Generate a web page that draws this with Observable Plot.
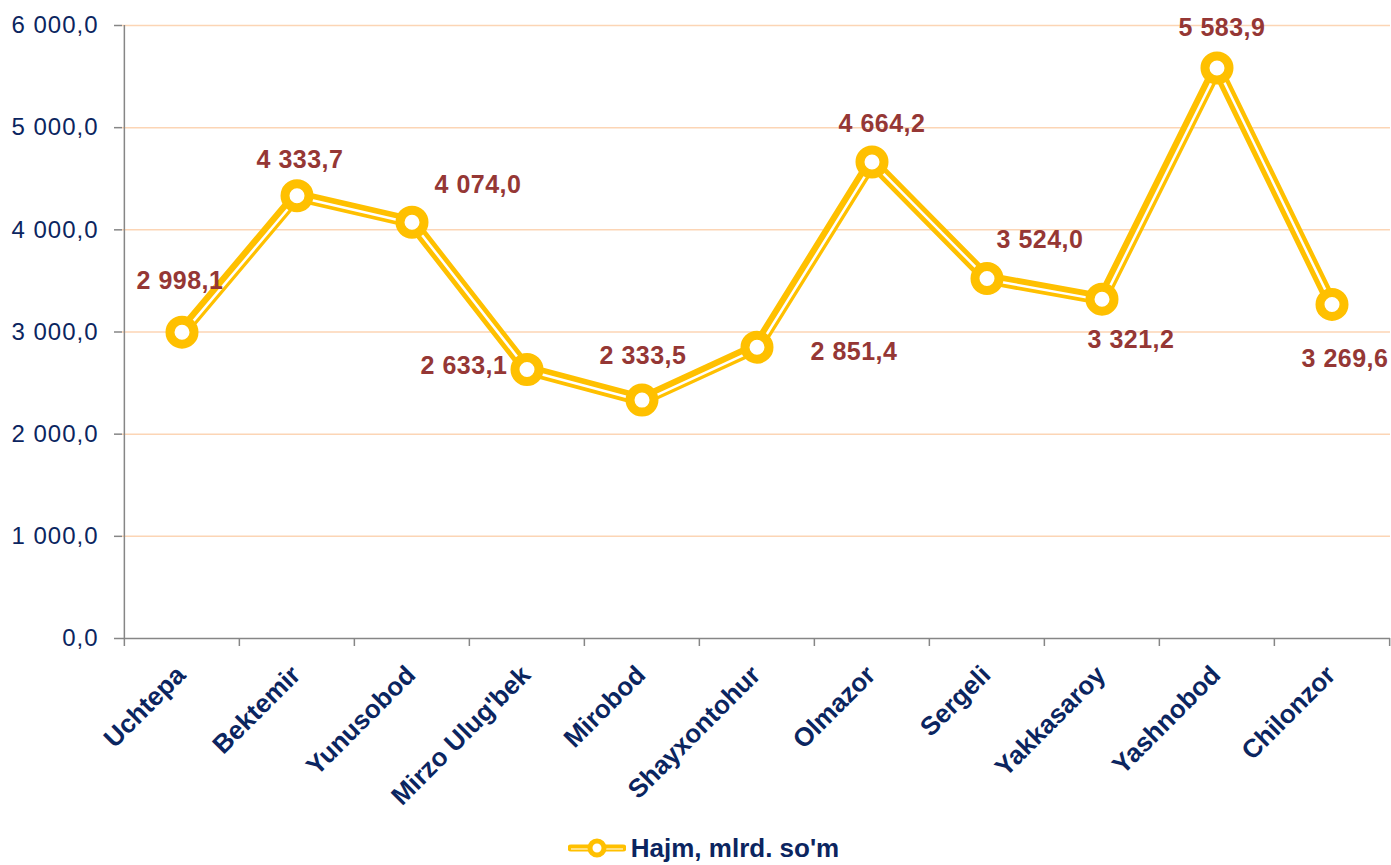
<!DOCTYPE html>
<html>
<head>
<meta charset="utf-8">
<script src="https://cdn.jsdelivr.net/npm/d3@7"></script>
<script src="https://cdn.jsdelivr.net/npm/@observablehq/plot@0.6"></script>
<style>
  html, body { margin: 0; padding: 0; background: #fff; overflow: hidden; }
  body { font-family: "Liberation Sans", Arial, sans-serif; }
  #chart svg g[aria-label="y-axis tick label"] text { letter-spacing: 1px; }
  #chart svg g.vlabel text { letter-spacing: 0.5px; }
  #legend { height: 50px; box-sizing: border-box; padding-top: 16px; padding-left: 16px;
            display: flex; justify-content: center; align-items: center; }
  #legend span { font-weight: bold; font-size: 26px; color: #0B2560; margin-left: 5px; }
</style>
</head>
<body>
<div id="chart"></div>
<div id="legend"></div>
<script>
// ---- data ----
const districts = ["Uchtepa", "Bektemir", "Yunusobod", "Mirzo Ulug'bek", "Mirobod", "Shayxontohur",
                   "Olmazor", "Sergeli", "Yakkasaroy", "Yashnobod", "Chilonzor"];
const volumes = [2998.1, 4333.7, 4074.0, 2633.1, 2333.5, 2851.4, 4664.2, 3524.0, 3321.2, 5583.9, 3269.6];
const yTicks = [0, 1000, 2000, 3000, 4000, 5000, 6000];
const seriesName = "Hajm, mlrd. so'm";

// ---- layout (label offsets in px, relative to each point) ----
const labelOffsets = [[-2, -51], [3, -36], [66, -37], [-63, -3], [1, -44], [97, 5],
                      [10, -38], [53, -38], [29, 41], [5, -40], [13, 55]];

const W = 1391, H = 815, ML = 122, MR = 1, MT = 25, MB = 177;
const bw = (W - ML - MR) / districts.length;
const plotH = H - MT - MB;

const loc = d3.formatLocale({decimal: ",", thousands: " ", grouping: [3], currency: ["", ""]});
const fmt = loc.format(",.1f");

const data = districts.map((d, i) => ({district: d, value: volumes[i]}));

const YELLOW = "#FFC000", GRID = "#FCD5B5", AXIS = "#868686", NAVY = "#0B2560", LABEL = "#953735";

const chart = Plot.plot({
  width: W, height: H,
  marginLeft: ML, marginRight: MR, marginTop: MT, marginBottom: MB,
  style: {fontFamily: "'Liberation Sans', Arial, sans-serif", background: "#fff", overflow: "visible"},
  x: {type: "band", domain: districts, padding: 0, axis: null, label: null},
  y: {domain: [0, 6000], axis: null, label: null},
  marks: [
    Plot.ruleY(yTicks.filter(v => v > 0), {stroke: GRID, strokeWidth: 1.5}),
    Plot.ruleY([0], {stroke: AXIS, strokeWidth: 1.5}),
    Plot.ruleX([districts[0]], {dx: -bw / 2, stroke: AXIS, strokeWidth: 1.5}),
    Plot.ruleX(districts, {dx: -bw / 2, insetTop: plotH, insetBottom: -8, stroke: AXIS, strokeWidth: 1.5}),
    Plot.ruleX([districts[districts.length - 1]], {dx: bw / 2, insetTop: plotH, insetBottom: -8, stroke: AXIS, strokeWidth: 1.5}),
    Plot.axisY({ticks: yTicks, tickSize: 8, tickPadding: 16, tickFormat: fmt, label: null,
                stroke: AXIS, strokeWidth: 1.5, fill: NAVY, fontSize: 24}),
    Plot.text(districts, {x: d => d, frameAnchor: "bottom", rotate: -45, textAnchor: "end", lineAnchor: "bottom",
                          dx: 5, dy: 38, fill: NAVY, fontWeight: "bold", fontSize: 26}),
    Plot.line(data, {x: "district", y: "value", stroke: YELLOW, strokeWidth: 12, strokeLinejoin: "round"}),
    Plot.line(data, {x: "district", y: "value", stroke: "#fff", strokeWidth: 2.5, dx: 1, dy: 1.2, strokeLinejoin: "round"}),
    Plot.dot(data, {x: "district", y: "value", r: 12, fill: "#fff", stroke: YELLOW, strokeWidth: 9}),
    ...data.map((d, i) => Plot.text([d], {x: "district", y: "value", text: v => fmt(v.value),
        dx: labelOffsets[i][0], dy: labelOffsets[i][1], fill: LABEL, fontWeight: "bold", fontSize: 25,
        className: "vlabel"}))
  ]
});
document.getElementById("chart").appendChild(chart);

// legend
const lg = document.getElementById("legend");
lg.innerHTML = `<svg width="58" height="24" viewBox="0 0 58 24">
  <line x1="3" y1="12" x2="55" y2="12" stroke="${YELLOW}" stroke-width="7" stroke-linecap="round"/>
  <line x1="3" y1="13" x2="55" y2="13" stroke="#fff" stroke-width="1.2"/>
  <circle cx="29" cy="12" r="7" fill="#fff" stroke="${YELLOW}" stroke-width="5"/>
</svg><span></span>`;
lg.querySelector("span").textContent = seriesName;
</script>
</body>
</html>
